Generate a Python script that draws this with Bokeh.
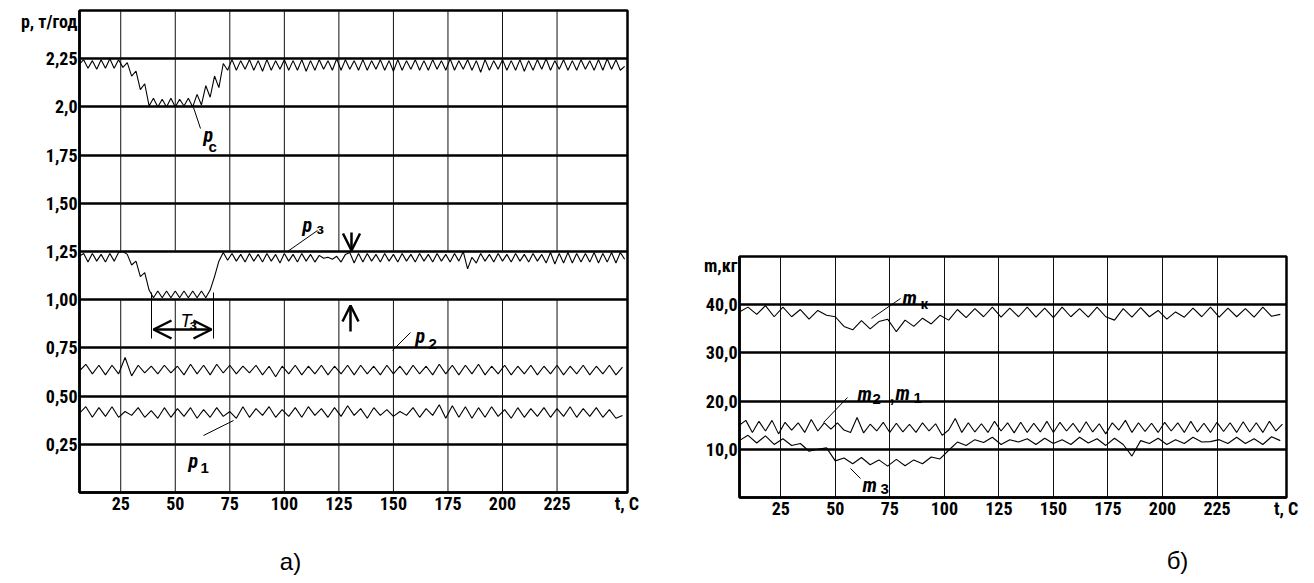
from bokeh.plotting import figure
from bokeh.models import FixedTicker, Label, Arrow, OpenHead, LinearAxis, Spacer
from bokeh.layouts import row, column
from bokeh.embed import file_html
from bokeh.resources import INLINE

# ---------------- data ----------------
X_TICKS = [25, 50, 75, 100, 125, 150, 175, 200, 225]
Y_TICKS_A = [0.25, 0.5, 0.75, 1.0, 1.25, 1.5, 1.75, 2.0, 2.25]
Y_LABELS_A = ["0,25", "0,50", "0,75", "1,00", "1,25", "1,50", "1,75", "2,0", "2,25"]
Y_TICKS_B = [10, 20, 30, 40]
Y_LABELS_B = ["10,0", "20,0", "30,0", "40,0"]
Y_NAME_A = "p, т/год"
Y_NAME_B = "m,кг"
X_NAME = "t, С"
CAPTION_A = "а)"
CAPTION_B = "б)"

T_START = 6          # first sample time, s
STEP_PC = 2          # sampling step of p_c and p_3, s
STEP_P12 = 3         # sampling step of p_1 and p_2, s
STEP_MK = 4
STEP_M2 = 3
STEP_M3 = 4

p_c = [2.22, 2.245, 2.20, 2.24, 2.195, 2.245, 2.20, 2.25, 2.20, 2.245,
       2.205, 2.23, 2.16, 2.185, 2.09, 2.12, 2.005, 2.045, 2.00, 2.04,
       2.00, 2.045, 2.00, 2.04, 2.005, 2.045, 2.00, 2.065, 2.01, 2.11,
       2.05, 2.16, 2.10, 2.225, 2.19, 2.245, 2.19, 2.24, 2.195, 2.245,
       2.19, 2.24, 2.185, 2.245, 2.19, 2.24, 2.195, 2.245, 2.19, 2.24,
       2.19, 2.245, 2.185, 2.24, 2.19, 2.245, 2.195, 2.24, 2.19, 2.25,
       2.19, 2.245, 2.195, 2.24, 2.19, 2.245, 2.19, 2.24, 2.195, 2.245,
       2.19, 2.24, 2.185, 2.245, 2.19, 2.24, 2.195, 2.245, 2.19, 2.24,
       2.19, 2.245, 2.195, 2.24, 2.19, 2.25, 2.19, 2.24, 2.195, 2.245,
       2.19, 2.24, 2.18, 2.245, 2.19, 2.24, 2.195, 2.245, 2.19, 2.24,
       2.19, 2.245, 2.185, 2.24, 2.19, 2.245, 2.195, 2.25, 2.19, 2.24,
       2.195, 2.245, 2.19, 2.24, 2.19, 2.245, 2.195, 2.24, 2.19, 2.245,
       2.19, 2.25, 2.195, 2.245, 2.19, 2.21]

p_3 = [1.225, 1.24, 1.195, 1.24, 1.20, 1.235, 1.195, 1.24, 1.20, 1.245,
       1.25, 1.235, 1.18, 1.20, 1.12, 1.14, 1.05, 1.01, 1.045, 1.01,
       1.045, 1.01, 1.045, 1.01, 1.045, 1.01, 1.045, 1.01, 1.045, 1.01,
       1.05, 1.12, 1.20, 1.245, 1.205, 1.24, 1.20, 1.235, 1.195, 1.24,
       1.20, 1.235, 1.195, 1.24, 1.20, 1.235, 1.19, 1.24, 1.20, 1.235,
       1.195, 1.24, 1.20, 1.235, 1.195, 1.23, 1.215, 1.22, 1.21, 1.225,
       1.195, 1.235, 1.245, 1.19, 1.24, 1.195, 1.24, 1.20, 1.235, 1.195,
       1.24, 1.20, 1.235, 1.195, 1.24, 1.20, 1.235, 1.195, 1.24, 1.20,
       1.235, 1.195, 1.24, 1.20, 1.235, 1.195, 1.24, 1.20, 1.25, 1.16,
       1.22, 1.19, 1.24, 1.20, 1.235, 1.195, 1.24, 1.20, 1.235, 1.195,
       1.24, 1.20, 1.235, 1.195, 1.24, 1.20, 1.235, 1.19, 1.245, 1.185,
       1.24, 1.19, 1.245, 1.19, 1.24, 1.195, 1.24, 1.195, 1.245, 1.19,
       1.24, 1.195, 1.245, 1.19, 1.245, 1.21]

p_2 = [0.63, 0.665, 0.615, 0.66, 0.61, 0.66, 0.615, 0.70, 0.605, 0.66,
       0.62, 0.655, 0.615, 0.66, 0.62, 0.655, 0.61, 0.665, 0.615, 0.66,
       0.61, 0.665, 0.62, 0.66, 0.615, 0.655, 0.62, 0.66, 0.61, 0.655,
       0.60, 0.655, 0.615, 0.66, 0.61, 0.655, 0.615, 0.66, 0.61, 0.655,
       0.615, 0.66, 0.61, 0.66, 0.615, 0.655, 0.61, 0.66, 0.615, 0.655,
       0.61, 0.66, 0.615, 0.655, 0.61, 0.665, 0.615, 0.66, 0.61, 0.66,
       0.615, 0.665, 0.61, 0.655, 0.615, 0.66, 0.61, 0.655, 0.615, 0.66,
       0.61, 0.655, 0.615, 0.66, 0.61, 0.655, 0.615, 0.66, 0.61, 0.655,
       0.615, 0.66, 0.61, 0.65]

p_1 = [0.41, 0.445, 0.39, 0.44, 0.395, 0.445, 0.39, 0.42, 0.40, 0.44,
       0.39, 0.425, 0.385, 0.44, 0.39, 0.435, 0.395, 0.44, 0.385, 0.43,
       0.39, 0.44, 0.395, 0.42, 0.385, 0.445, 0.39, 0.435, 0.40, 0.445,
       0.39, 0.43, 0.395, 0.44, 0.39, 0.445, 0.40, 0.435, 0.39, 0.44,
       0.395, 0.45, 0.40, 0.435, 0.385, 0.44, 0.40, 0.43, 0.395, 0.42,
       0.40, 0.44, 0.39, 0.435, 0.40, 0.455, 0.385, 0.45, 0.39, 0.445,
       0.385, 0.44, 0.39, 0.445, 0.395, 0.43, 0.385, 0.44, 0.39, 0.435,
       0.395, 0.44, 0.39, 0.435, 0.395, 0.445, 0.39, 0.435, 0.395, 0.44,
       0.39, 0.43, 0.385, 0.40]

m_k = [38.5, 39.5, 38.0, 39.8, 37.5, 39.5, 37.5, 39.0, 37.0, 38.8,
       37.8, 37.5, 35.5, 34.8, 36.7, 35.0, 36.5, 37.0, 34.4, 36.8,
       35.5, 37.2, 36.0, 37.8, 36.8, 39.0, 37.3, 39.2, 37.5, 39.5,
       37.4, 39.3, 37.5, 39.5, 37.4, 39.3, 37.3, 39.5, 37.5, 39.2,
       37.4, 39.5, 37.5, 36.8, 39.2, 37.4, 39.4, 37.5, 38.8, 37.0,
       38.5, 37.4, 39.3, 37.5, 39.5, 37.4, 39.3, 37.5, 39.2, 37.4,
       39.5, 37.6, 38.0]

m_2 = [15.0, 16.0, 13.5, 15.8, 13.8, 16.0, 13.2, 15.6, 14.0, 15.5,
       13.5, 16.2, 13.8, 15.5, 14.2, 15.5, 14.0, 13.5, 16.6, 13.4,
       15.2, 13.8, 15.6, 13.5, 15.4, 13.6, 15.2, 13.5, 15.5, 13.8,
       15.3, 12.9, 14.0, 16.4, 13.5, 15.5, 13.6, 15.3, 13.5, 15.8,
       13.8, 15.5, 13.4, 15.6, 13.5, 15.4, 13.6, 15.8, 13.5, 15.6,
       13.8, 15.4, 13.5, 15.7, 13.6, 15.3, 13.2, 15.5, 14.0, 16.0,
       13.5, 15.5, 13.7, 15.4, 13.5, 15.6, 13.8, 15.5, 13.5, 15.8,
       13.6, 15.4, 13.5, 15.6, 13.7, 15.5, 13.5, 15.7, 13.6, 15.5,
       13.5, 15.8, 13.8, 15.2]

m_3 = [11.8, 12.9, 11.3, 12.8, 11.0, 12.2, 10.8, 11.2, 9.6, 10.0,
       10.3, 7.6, 8.2, 7.0, 8.3, 6.8, 7.8, 6.5, 7.9, 6.6,
       7.8, 7.0, 8.4, 8.0, 9.8, 11.5, 10.8, 12.0, 11.4, 12.5,
       11.0, 12.0, 11.5, 12.2, 11.0, 12.3, 11.2, 12.0, 11.0, 12.5,
       11.3, 12.2, 10.8, 12.3, 11.0, 8.6, 11.8, 11.2, 12.3, 11.0,
       12.0, 11.2, 12.5, 11.5, 11.6, 12.0, 11.2, 12.5, 11.2, 12.2,
       11.0, 12.6, 11.8]


def times(vals, step):
    return [T_START + i * step for i in range(len(vals))]


# ---------------- styling ----------------
TICK_FONT = "'Liberation Sans Narrow', 'Arial Narrow', 'Roboto Condensed', 'DejaVu Sans Condensed', 'Liberation Sans', sans-serif"
SUB_FONT = "'Liberation Sans', Arial, sans-serif"
XA = (6.1, 257.3)
YA = (0.0, 2.5)
XB = (6.1, 256.85)
YB = (0.0, 50.0)


def ax(px):
    return XA[0] + (px - 79) * (XA[1] - XA[0]) / 548.0


def ay(py):
    return (492 - py) * (YA[1] - YA[0]) / 482.0


def bx(px):
    return XB[0] + (px - 739) * (XB[1] - XB[0]) / 547.0


def by(py):
    return (497 - py) * (YB[1] - YB[0]) / 241.0


def style(p, yticks, ylabels, yname_pos, yname, xname_pos):
    p.background_fill_color = "white"
    p.border_fill_color = "white"
    p.outline_line_color = "black"
    p.outline_line_width = 2.5
    p.xaxis.ticker = FixedTicker(ticks=X_TICKS + [xname_pos])
    p.xaxis.major_label_overrides = {xname_pos: X_NAME}
    p.yaxis.ticker = FixedTicker(ticks=yticks + [yname_pos])
    ov = {k: v for k, v in zip(yticks, ylabels)}
    ov[yname_pos] = yname
    p.yaxis.major_label_overrides = ov
    p.ygrid.ticker = FixedTicker(ticks=yticks)
    p.xgrid.ticker = FixedTicker(ticks=X_TICKS)
    for a in (p.xaxis[0], p.yaxis[0]):
        a.axis_line_color = "black"
        a.axis_line_width = 2.5
        a.major_tick_line_color = None
        a.minor_tick_line_color = None
        a.major_tick_out = 0
        a.major_tick_in = 0
        a.minor_tick_out = 0
        a.minor_tick_in = 0
        a.major_label_text_font = TICK_FONT
        a.major_label_text_font_style = "bold"
        a.major_label_text_font_size = "18px"
        a.major_label_text_color = "black"
    p.xaxis.major_label_standoff = 0
    p.yaxis.major_label_standoff = 2
    p.ygrid.grid_line_color = "black"
    p.ygrid.grid_line_width = 2.5


def caption(p, pos, text, standoff):
    a = LinearAxis(ticker=FixedTicker(ticks=[pos]), major_label_overrides={pos: text},
                   axis_line_color=None, major_tick_line_color=None, minor_tick_line_color=None,
                   major_tick_out=0, major_tick_in=0, minor_tick_out=0, minor_tick_in=0,
                   major_label_standoff=standoff, major_label_text_font=SUB_FONT,
                   major_label_text_font_size="24px", major_label_text_font_style="normal",
                   major_label_text_color="black")
    p.add_layout(a, "below")


def txt(p, s, x, y, size, style_="bold", font=TICK_FONT):
    p.add_layout(Label(x=x, y=y, text=s, text_font=font, text_font_size=size,
                       text_font_style=style_, text_align="left",
                       text_baseline="alphabetic", text_color="black"))


def lead(p, x0, y0, x1, y1, w=1):
    p.segment(x0=[x0], y0=[y0], x1=[x1], y1=[y1], line_color="black", line_width=w)


# ---------------- panel a ----------------
pa = figure(width=660, height=578, x_range=XA, y_range=YA, title=None,
            output_backend="svg", toolbar_location=None,
            min_border_left=79, min_border_right=33, min_border_top=10, min_border_bottom=86)
style(pa, Y_TICKS_A, Y_LABELS_A, ay(21), Y_NAME_A, ax(627) - 0.3)
caption(pa, ax(290), CAPTION_A, 31)
pa.xgrid.visible = False
nx = len(X_TICKS)
pa.segment(x0=X_TICKS, y0=[YA[0]] * nx, x1=X_TICKS, y1=[1.0] * nx, line_color="#111111", line_width=1)
pa.segment(x0=X_TICKS, y0=[1.25] * nx, x1=X_TICKS, y1=[YA[1]] * nx, line_color="#111111", line_width=1)

for vals, step in ((p_c, STEP_PC), (p_3, STEP_PC), (p_2, STEP_P12), (p_1, STEP_P12)):
    pa.line(times(vals, step), vals, line_color="black", line_width=1.1)

# series labels
txt(pa, "p", ax(203), ay(134), "20px", "bold italic")
txt(pa, "c", ax(208), ay(146), "15px", "bold", SUB_FONT)
lead(pa, ax(193), ay(107), ax(200), ay(128))
txt(pa, "p", ax(302), ay(224), "20px", "bold italic")
txt(pa, "з", ax(316), ay(228), "15px", "bold", SUB_FONT)
lead(pa, ax(287), ay(251), ax(317), ay(230))
txt(pa, "p", ax(415), ay(335), "20px", "bold italic")
txt(pa, "2", ax(428), ay(343), "15px", "bold", SUB_FONT)
lead(pa, ax(392), ay(350), ax(410), ay(332))
txt(pa, "p", ax(188), ay(460), "20px", "bold italic")
txt(pa, "1", ax(200), ay(467), "15px", "bold", SUB_FONT)
lead(pa, ax(203), ay(435), ax(233), ay(420))
# T3 marker
txt(pa, "T", ax(180), ay(320), "18px", "italic", SUB_FONT)
txt(pa, "з", ax(189), ay(324), "15px", "bold", SUB_FONT)
lead(pa, ax(151), ay(292), ax(151), ay(338))
lead(pa, ax(213), ay(292), ax(213), ay(338))
pa.add_layout(Arrow(start=OpenHead(size=18, line_width=2.5, line_color="black"),
                    end=OpenHead(size=18, line_width=2.5, line_color="black"),
                    x_start=ax(153), y_start=ay(329), x_end=ax(211), y_end=ay(329),
                    line_width=2.5, line_color="black"))
pa.add_layout(Arrow(end=OpenHead(size=17, line_width=2.5, line_color="black"),
                    x_start=ax(351), y_start=ay(232), x_end=ax(351), y_end=ay(250),
                    line_width=2.5, line_color="black"))
pa.add_layout(Arrow(end=OpenHead(size=16, line_width=2.5, line_color="black"),
                    x_start=ax(350), y_start=ay(331), x_end=ax(350), y_end=ay(305),
                    line_width=2.5, line_color="black"))

# ---------------- panel b ----------------
pb = figure(width=646, height=324, x_range=XB, y_range=YB, title=None,
            output_backend="svg", toolbar_location=None,
            min_border_left=79, min_border_right=20, min_border_top=2, min_border_bottom=81)
style(pb, Y_TICKS_B, Y_LABELS_B, by(263), Y_NAME_B, XB[1] - 0.15)
caption(pb, bx(1177), CAPTION_B, 25)
pb.xgrid.grid_line_color = "#111111"
pb.xgrid.grid_line_width = 1

for vals, step in ((m_k, STEP_MK), (m_2, STEP_M2), (m_3, STEP_M3)):
    pb.line(times(vals, step), vals, line_color="black", line_width=1.1)

txt(pb, "m", bx(902), by(297), "20px", "bold italic")
txt(pb, "к", bx(920), by(303), "15px", "bold", SUB_FONT)
lead(pb, bx(871), by(318), bx(900), by(298))
txt(pb, "m", bx(857), by(393), "20px", "bold italic")
txt(pb, "2", bx(872), by(398), "15px", "bold", SUB_FONT)
txt(pb, ",", bx(889), by(395), "18px", "bold", SUB_FONT)
txt(pb, "m", bx(895), by(392), "20px", "bold italic")
txt(pb, "1", bx(913), by(397), "15px", "bold", SUB_FONT)
lead(pb, bx(823), by(422), bx(847), by(397))
txt(pb, "m", bx(862), by(484), "20px", "bold italic")
txt(pb, "3", bx(880), by(488), "15px", "bold", SUB_FONT)
lead(pb, bx(850), by(468), bx(860), by(478))

layout = row(pa, column(Spacer(width=646, height=254), pb))
open("out.html", "w").write(file_html(layout, INLINE))
